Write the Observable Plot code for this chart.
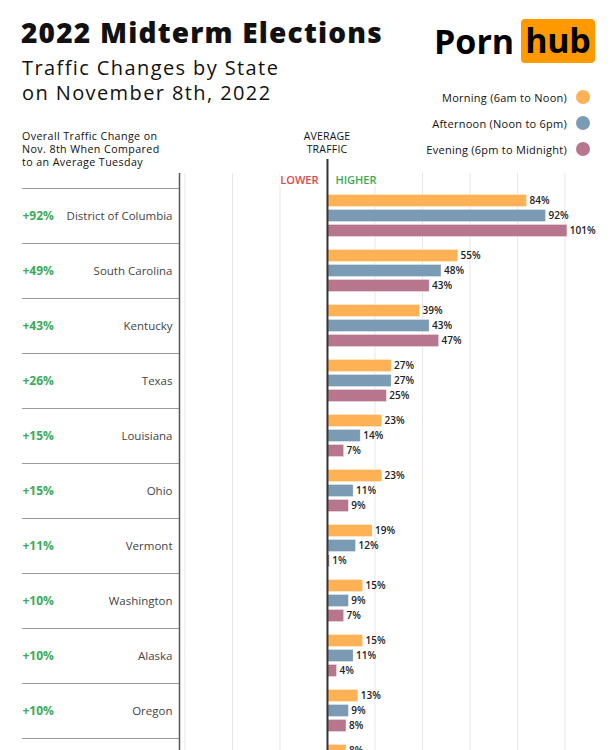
<!DOCTYPE html>
<html>
<head>
<meta charset="utf-8">
<script src="https://cdn.jsdelivr.net/npm/d3@7"></script>
<script src="https://cdn.jsdelivr.net/npm/@observablehq/plot@0.6"></script>
<style>
  html, body { margin: 0; padding: 0; background: #fff; overflow: hidden; }
  body { width: 612px; font-family: "Open Sans", sans-serif; color: #111; }
  #header { position: relative; width: 612px; height: 160px; }
  .abs { position: absolute; white-space: nowrap; }
  #title { left: 21px; top: 13px; font-size: 28px; font-weight: 800; letter-spacing: 1.2px; }
  #sub { left: 22px; top: 55px; font-size: 20px; font-weight: 500; line-height: 25px; letter-spacing: 1.4px; }
  #logo { left: 434px; top: 18px; height: 45px; display: flex; align-items: center; }
  #porn { font-size: 34px; font-weight: 700; color: #000; letter-spacing: 0px; margin-right: 7px; }
  #hub { background: #ff9900; color: #000; font-size: 34px; font-weight: 700; border-radius: 4px; padding: 0 4px; height: 44px; line-height: 42px; letter-spacing: -0.3px; }
  #legend { right: 22px; top: 84px; }
  .leg { display: flex; justify-content: flex-end; align-items: center; height: 26px; font-size: 11px; font-weight: 500; color: #111; letter-spacing: 0.25px; }
  .leg span.dot { display: inline-block; width: 14px; height: 14px; border-radius: 50%; margin-left: 9px; }
  #lefthead { left: 22px; top: 130px; font-size: 10.7px; font-weight: 500; line-height: 13px; letter-spacing: 0.4px; }
  #avg { left: 277px; width: 100px; top: 130px; font-size: 10.5px; font-weight: 500; line-height: 13px; text-align: center; letter-spacing: 0.2px; }
</style>
</head>
<body>
<div id="header">
  <div class="abs" id="title"></div>
  <div class="abs" id="sub"></div>
  <div class="abs" id="logo"><span id="porn">Porn</span><span id="hub">hub</span></div>
  <div class="abs" id="legend"></div>
  <div class="abs" id="lefthead"></div>
  <div class="abs" id="avg"></div>
</div>
<div id="chart"></div>
<script>
const titleText = "2022 Midterm Elections";
const subtitleLines = ["Traffic Changes by State", "on November 8th, 2022"];
const leftHeaderLines = ["Overall Traffic Change on", "Nov. 8th When Compared", "to an Average Tuesday"];
const avgHeaderLines = ["AVERAGE", "TRAFFIC"];

const periods = ["Morning (6am to Noon)", "Afternoon (Noon to 6pm)", "Evening (6pm to Midnight)"];
const periodColors = ["#ffb155", "#7b9bb5", "#b8758e"];

const states = ["District of Columbia", "South Carolina", "Kentucky", "Texas", "Louisiana", "Ohio", "Vermont", "Washington", "Alaska", "Oregon", " "];
const overall = [92, 49, 43, 26, 15, 15, 11, 10, 10, 10, null];
const morning = [84, 55, 39, 27, 23, 23, 19, 15, 15, 13, 8];
const afternoon = [92, 48, 43, 27, 14, 11, 12, 9, 11, 9, null];
const evening = [101, 43, 47, 25, 7, 9, 1, 7, 4, 8, null];

const gridTicks = [-60, -40, -20, 20, 40, 60, 80, 100];
const xDomain = [-62.3, 120];

// header text
document.getElementById("title").textContent = titleText;
document.getElementById("sub").innerHTML = subtitleLines.join("<br>");
document.getElementById("lefthead").innerHTML = leftHeaderLines.join("<br>");
document.getElementById("avg").innerHTML = avgHeaderLines.join("<br>");
document.getElementById("legend").innerHTML = periods.map((p, i) =>
  `<div class="leg">${p}<span class="dot" style="background:${periodColors[i]}"></span></div>`).join("");

const rows = states.map((s, i) => ({state: s, overall: overall[i], morning: morning[i], afternoon: afternoon[i], evening: evening[i]}));
const series = [
  {key: "morning", color: periodColors[0], top: 6.5, bottom: 36.5, dy: -15},
  {key: "afternoon", color: periodColors[1], top: 21.5, bottom: 21.5, dy: 0},
  {key: "evening", color: periodColors[2], top: 36.5, bottom: 6.5, dy: 15}
];

const fontFam = "'Open Sans', sans-serif";
const marks = [
  Plot.ruleX(gridTicks, {stroke: "#e6e6e6", strokeWidth: 1, insetTop: -15}),
  Plot.ruleY(states, {y: d => d, dy: -27.5, insetLeft: -157, insetRight: 433, stroke: "#9a9a9a", strokeWidth: 1}),
  ...series.map(s => Plot.barX(rows.filter(r => r[s.key] != null), {
    x: s.key, y: "state", fill: s.color, insetTop: s.top, insetBottom: s.bottom,
    stroke: "#fff", strokeOpacity: 0.5, strokeWidth: 0.6
  })),
  ...series.map(s => Plot.text(rows.filter(r => r[s.key] != null), {
    x: s.key, y: "state", text: d => d[s.key] + "%", dx: 2.5, dy: s.dy, textAnchor: "start",
    fontSize: 10, fontWeight: 600, fill: "#222", style: "letter-spacing:0.1px"
  })),
  Plot.ruleX([xDomain[0]], {stroke: "#555", strokeWidth: 1.5, insetTop: -15}),
  Plot.ruleX([0], {stroke: "#333", strokeWidth: 2, insetTop: -29}),
  Plot.text(["LOWER"], {x: 0, frameAnchor: "top", dy: -12, dx: -9, textAnchor: "end", text: d => d, fill: "#d94a4a", fontSize: 11, fontWeight: 600, stroke: "#fff", strokeWidth: 4}),
  Plot.text(["HIGHER"], {x: 0, frameAnchor: "top", dy: -12, dx: 8, textAnchor: "start", text: d => d, fill: "#3baa55", fontSize: 11, fontWeight: 600, stroke: "#fff", strokeWidth: 4}),
  Plot.text(rows, {y: "state", frameAnchor: "left", dx: -7, textAnchor: "end", text: "state", fill: "#444", fontSize: 11.5, fontWeight: 500}),
  Plot.text(rows.filter(r => r.overall != null), {y: "state", frameAnchor: "left", dx: -157, textAnchor: "start", text: d => "+" + d.overall + "%", fill: "#3baa55", fontSize: 12, fontWeight: 700})
];

const chart = Plot.plot({
  width: 612,
  height: 643,
  marginTop: 28,
  marginBottom: 10,
  marginLeft: 179,
  marginRight: 0,
  x: {domain: xDomain, axis: null},
  y: {domain: states, padding: 0, axis: null},
  style: {fontFamily: fontFam, background: "#fff", overflow: "visible"},
  marks
});
document.getElementById("chart").appendChild(chart);
</script>
</body>
</html>
